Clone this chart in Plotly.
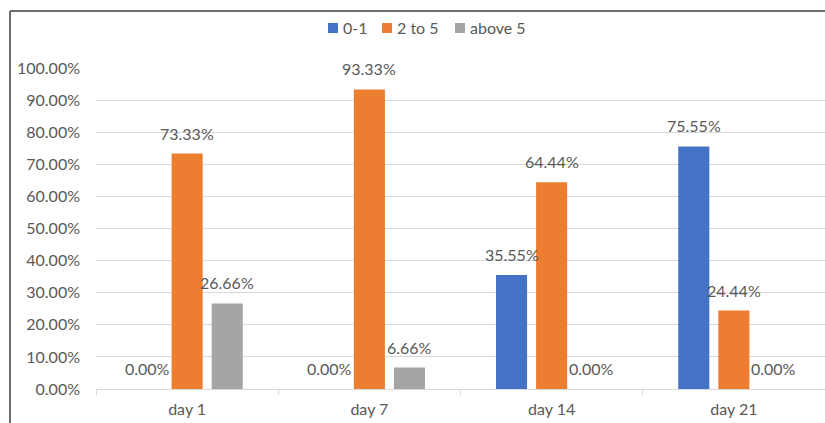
import plotly.graph_objects as go

# Share of samples per score band at each time point
days = ["day 1", "day 7", "day 14", "day 21"]
band_names = ["0-1", "2 to 5", "above 5"]
band_0_1 = [0.0, 0.0, 0.3555, 0.7555]
band_2_5 = [0.7333, 0.9333, 0.6444, 0.2444]
band_above_5 = [0.2666, 0.0666, 0.0, 0.0]
band_colors = ["#4472C4", "#ED7D31", "#A5A5A5"]

series = [band_0_1, band_2_5, band_above_5]

FONT = "Lato"
TEXT_COLOR = "#595959"
BARGAP = 0.34
BARGROUPGAP = 0.225

# Plot area geometry (pixels)
W, H = 825, 423
L, R, T, B = 96, 0, 68, 34
pw = W - L - R
ph = H - T - B


def px_x(p):
    """Pixel column -> paper x."""
    return (p - L) / pw


def px_y(p):
    """Pixel row -> paper y."""
    return 1 + (T - p) / ph


fig = go.Figure()
for name, vals, color in zip(band_names, series, band_colors):
    fig.add_trace(go.Bar(
        name=name, x=days, y=vals,
        marker=dict(color=color, line=dict(width=0)),
        hoverinfo="x+y+name", showlegend=False,
    ))

# Value labels above each bar, placed at the grouped-bar centres
n = len(series)
slot = (1 - BARGAP) / n
annotations = []
for k, vals in enumerate(series):
    off = (k - (n - 1) / 2) * slot
    for i, v in enumerate(vals):
        annotations.append(dict(
            x=i + off, y=v, xref="x", yref="y",
            text=f"{v * 100:.2f}%", showarrow=False,
            yanchor="bottom", yshift=9,
            font=dict(family=FONT, size=16, color=TEXT_COLOR),
        ))

# Chart-area frame (top and left edges)
fx = px_x(10)
fy = px_y(11)
shapes = [
    dict(type="line", xref="paper", yref="paper", x0=fx, x1=1.05, y0=fy, y1=fy,
         line=dict(color="#6E6E6E", width=2)),
    dict(type="line", xref="paper", yref="paper", x0=fx, x1=fx, y0=fy, y1=-0.2,
         line=dict(color="#6E6E6E", width=2)),
]

# Compact legend row: small colour key followed by the band name
legend_key_left = [328, 382, 455]
key_top, key_size = 23, 10
for name, color, kx in zip(band_names, band_colors, legend_key_left):
    shapes.append(dict(
        type="rect", xref="paper", yref="paper",
        x0=px_x(kx), x1=px_x(kx + key_size),
        y0=px_y(key_top + key_size), y1=px_y(key_top),
        fillcolor=color, line=dict(width=0),
    ))
    annotations.append(dict(
        x=px_x(kx + key_size + 3), y=px_y(key_top + key_size / 2),
        xref="paper", yref="paper", xanchor="left", yanchor="middle",
        text=name, showarrow=False,
        font=dict(family=FONT, size=16, color=TEXT_COLOR),
    ))

fig.update_layout(
    width=W, height=H,
    margin=dict(l=L, r=R, t=T, b=B, pad=0),
    paper_bgcolor="white", plot_bgcolor="white",
    barmode="group", bargap=BARGAP, bargroupgap=BARGROUPGAP,
    font=dict(family=FONT, size=16, color=TEXT_COLOR),
    showlegend=False,
    annotations=annotations,
    shapes=shapes,
)

fig.update_xaxes(
    type="category",
    showline=True, linecolor="#D9D9D9", linewidth=1,
    ticks="outside", tickson="boundaries", ticklen=5, tickcolor="#D9D9D9",
    showgrid=False, ticklabelstandoff=6,
    tickfont=dict(family=FONT, size=16, color=TEXT_COLOR),
)
fig.update_yaxes(
    range=[0, 1], dtick=0.1, tickformat=".2%",
    showgrid=True, gridcolor="#D9D9D9", gridwidth=1,
    zeroline=False, showline=False, ticks="", ticklabelstandoff=15,
    tickfont=dict(family=FONT, size=16, color=TEXT_COLOR),
)

fig.write_html("out.html")
